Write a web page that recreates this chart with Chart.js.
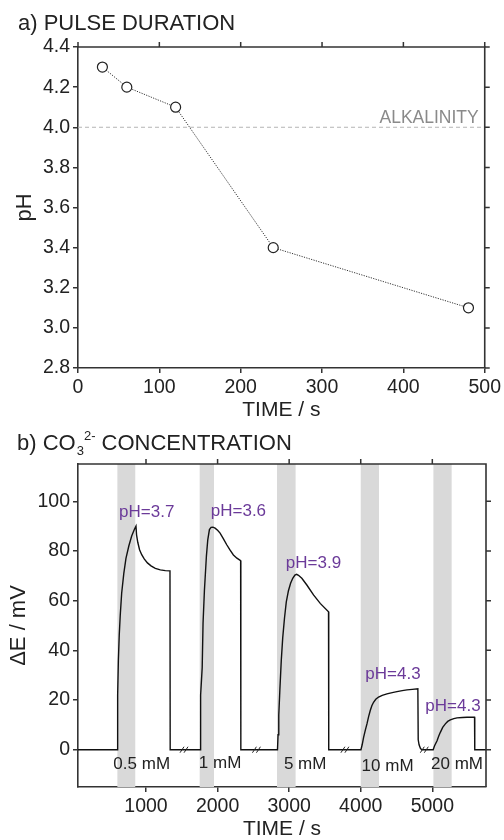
<!DOCTYPE html>
<html><head><meta charset="utf-8">
<script src="https://cdn.jsdelivr.net/npm/chart.js@4"></script>
<style>
html,body{margin:0;padding:0;background:#fff;overflow:hidden;width:504px;height:840px;}
#w1{position:absolute;left:0;top:0;width:504px;height:425px;}
#w2{position:absolute;left:0;top:425px;width:504px;height:415px;}
</style></head><body>
<div id="w1"><canvas id="c1"></canvas></div>
<div id="w2"><canvas id="c2"></canvas></div>
<script>
// ---------- Panel a) data ----------
const pulseDurations = [30, 60, 120, 240, 480];
const pulsePH = [4.3, 4.2, 4.1, 3.4, 3.1];
const alkalinityPH = 4.0;
const alkalinityLabel = 'ALKALINITY';
const pulseXTicks = [0, 100, 200, 300, 400, 500];
const pulseYTicks = [2.8, 3.0, 3.2, 3.4, 3.6, 3.8, 4.0, 4.2, 4.4];

// ---------- Panel b) data ----------
const timeS = [50, 600, 602, 606, 614, 626, 640, 660, 690, 720, 760, 800, 840, 860,
  868, 885, 910, 940, 975, 1020, 1070, 1130, 1200, 1270, 1335, 1338,
  1755, 1760, 1766, 1775, 1785, 1797, 1816, 1844, 1863, 1886, 1909, 1935, 1965, 2000, 2035, 2080, 2128, 2175, 2221, 2270, 2322, 2325,
  2837, 2845, 2855, 2870, 2890, 2910, 2935, 2960, 2990, 3020, 3050, 3080, 3105, 3130, 3177, 3247, 3340, 3434, 3550, 3553,
  4003, 4020, 4040, 4065, 4087, 4110, 4133, 4155, 4179, 4210, 4249, 4300, 4366, 4440, 4506, 4580, 4646, 4720, 4798, 4803, 4815, 4835, 4855,
  5012, 5030, 5066, 5090, 5112, 5145, 5182, 5215, 5252, 5300, 5345, 5420, 5485, 5590, 5593, 5750];
const deltaE = [0, 0, 8, 22, 36, 46, 54, 63, 71, 77, 82, 86, 88.8, 90,
  86.5, 83.5, 80.5, 78.5, 76.8, 75.2, 74, 73, 72.4, 72.1, 72, 0,
  0, 14, 22, 28, 33, 51, 64, 78, 84.5, 88.6, 89.5, 89.6, 89.2, 88.3, 87.2, 85, 82.5, 80.3, 78.4, 77.1, 76.1, 0,
  0, 6, 14, 24, 36, 45, 53, 59.5, 64, 67, 69, 70.3, 70.6, 70.2, 69, 66.3, 62.3, 58.9, 55.5, 0,
  0, 2, 5, 8, 10.4, 13.3, 15.8, 17.7, 19.1, 20.3, 21.2, 21.9, 22.5, 23, 23.4, 23.8, 24.1, 24.3, 24.5, 4, 2, 0.5, 0,
  0, 1.5, 3.6, 5.5, 7, 9, 10.4, 11.4, 12, 12.5, 12.8, 13, 13.1, 13.1, 0, 0];
const pulseBands = [[600, 850], [1750, 1950], [2830, 3090], [4000, 4255], [5015, 5270]];
const concLabels = ['0.5 mM', '1 mM', '5 mM', '10 mM', '20 mM'];
const concLabelTimes = [940, 2035, 3224, 4375, 5345];
const concLabelValues = [-6, -5.5, -6, -6.5, -6];
const phLabels = ['pH=3.7', 'pH=3.6', 'pH=3.9', 'pH=4.3', 'pH=4.3'];
const phLabelTimes = [1010, 2291, 3340, 4450, 5289];
const phLabelValues = [95.6, 96, 75, 30.3, 17.4];
const axisBreakTimes = [1545, 2557, 3793, 4902];
const timeXTicks = [1000, 2000, 3000, 4000, 5000];
const deltaEYTicks = [0, 20, 40, 60, 80, 100];

const FONT = "'Liberation Sans', Arial, Helvetica, sans-serif";
const INK = '#222';
const AXIS = '#333';

Chart.defaults.font.family = FONT;
Chart.defaults.color = INK;

function frameTicks(chart) {
  const {ctx, chartArea: a, scales} = chart;
  const xs = scales.x, ys = scales.y;
  ctx.save();
  ctx.strokeStyle = AXIS;
  ctx.lineWidth = 1.6;
  ctx.beginPath();
  ctx.moveTo(a.left, a.top); ctx.lineTo(a.right, a.top); ctx.lineTo(a.right, a.bottom);
  ctx.stroke();
  ctx.lineWidth = 1.5;
  ctx.beginPath();
  xs.ticks.forEach(t => { const x = xs.getPixelForValue(t.value); ctx.moveTo(x, a.top); ctx.lineTo(x, a.top - 5); });
  ys.ticks.forEach(t => { const y = ys.getPixelForValue(t.value); ctx.moveTo(a.right, y); ctx.lineTo(a.right + 5, y); });
  ctx.stroke();
  ctx.restore();
}

function axisCommon(ticksArr, fmt) {
  return {
    type: 'linear',
    afterBuildTicks: s => { s.ticks = ticksArr.map(v => ({value: v})); },
    grid: {drawOnChartArea: false, drawTicks: true, tickLength: 5, color: AXIS, lineWidth: 1.5},
    border: {display: true, color: AXIS, width: 1.6},
    ticks: {font: {size: 19.5}, color: INK, padding: 3, maxRotation: 0, autoSkip: false, callback: fmt}
  };
}

// ---------- Chart a ----------
const plugA = {
  id: 'plugA',
  beforeDatasetsDraw(chart) {
    const {ctx, chartArea: a, scales: {y}} = chart;
    const py = y.getPixelForValue(alkalinityPH);
    ctx.save();
    ctx.strokeStyle = '#b4b4b4'; ctx.lineWidth = 1; ctx.setLineDash([4, 3]);
    ctx.beginPath(); ctx.moveTo(a.left, py); ctx.lineTo(a.right, py); ctx.stroke();
    ctx.setLineDash([]);
    ctx.fillStyle = '#8a8a8a'; ctx.font = '17.5px ' + FONT;
    ctx.textAlign = 'right'; ctx.textBaseline = 'alphabetic';
    ctx.fillText(alkalinityLabel, a.right - 6, py - 4);
    ctx.restore();
  },
  afterDraw(chart) {
    frameTicks(chart);
    const ctx = chart.ctx;
    ctx.save();
    ctx.fillStyle = INK; ctx.font = '22px ' + FONT; ctx.textAlign = 'left'; ctx.textBaseline = 'alphabetic';
    ctx.fillText('a) PULSE DURATION', 18, 30);
    ctx.restore();
  }
};

const xa = axisCommon(pulseXTicks, v => String(v));
xa.min = 0; xa.max = 500;
xa.afterFit = s => { s.height = 57; };
xa.title = {display: true, text: 'TIME / s', font: {size: 21}, color: INK, padding: {top: 0, bottom: 2}};
const ya = axisCommon(pulseYTicks, v => Number(v).toFixed(1));
ya.min = 2.8; ya.max = 4.4;
ya.afterFit = s => { s.width = 78; };
ya.title = {display: true, text: 'pH', font: {size: 22}, color: INK, padding: {top: 12, bottom: 0}};

new Chart(document.getElementById('c1'), {
  type: 'line',
  data: {datasets: [{
    data: pulseDurations.map((d, i) => ({x: d, y: pulsePH[i]})),
    borderColor: '#333', borderWidth: 1, borderDash: [1.2, 1.3],
    pointRadius: 5, pointBackgroundColor: '#fff', pointBorderColor: '#222', pointBorderWidth: 1.2,
    tension: 0
  }]},
  options: {
    responsive: true, maintainAspectRatio: false, animation: false, devicePixelRatio: 1,
    layout: {padding: {left: 0, right: 18, top: 47, bottom: 0}},
    plugins: {legend: {display: false}, tooltip: {enabled: false}},
    scales: {x: xa, y: ya}
  },
  plugins: [plugA]
});

// ---------- Chart b ----------
const plugB = {
  id: 'plugB',
  beforeDatasetsDraw(chart) {
    const {ctx, chartArea: a, scales: {x}} = chart;
    ctx.save();
    ctx.fillStyle = '#d9d9d9';
    pulseBands.forEach(([s, e]) => {
      const x0 = x.getPixelForValue(s), x1 = x.getPixelForValue(e);
      ctx.fillRect(x0, a.top, x1 - x0, a.bottom - a.top);
    });
    ctx.restore();
  },
  afterDatasetsDraw(chart) {
    const {ctx, scales: {x, y}} = chart;
    ctx.save();
    ctx.strokeStyle = INK; ctx.lineWidth = 1;
    const y0 = y.getPixelForValue(0);
    axisBreakTimes.forEach(t => {
      const px = x.getPixelForValue(t);
      ctx.beginPath();
      ctx.moveTo(px - 5, y0 + 3); ctx.lineTo(px - 1, y0 - 3);
      ctx.moveTo(px - 1, y0 + 3); ctx.lineTo(px + 3, y0 - 3);
      ctx.stroke();
    });
    ctx.textAlign = 'center'; ctx.textBaseline = 'middle';
    ctx.font = '17px ' + FONT;
    ctx.fillStyle = INK;
    concLabels.forEach((s, i) => ctx.fillText(s, x.getPixelForValue(concLabelTimes[i]), y.getPixelForValue(concLabelValues[i])));
    ctx.fillStyle = '#6b3a99';
    phLabels.forEach((s, i) => ctx.fillText(s, x.getPixelForValue(phLabelTimes[i]), y.getPixelForValue(phLabelValues[i])));
    ctx.restore();
  },
  afterDraw(chart) {
    frameTicks(chart);
    const ctx = chart.ctx;
    ctx.save();
    ctx.fillStyle = INK; ctx.textAlign = 'left'; ctx.textBaseline = 'alphabetic';
    const base = 25;
    let cx = 17;
    ctx.font = '22px ' + FONT;
    ctx.fillText('b) CO', cx, base); cx += ctx.measureText('b) CO').width;
    ctx.font = '13px ' + FONT;
    ctx.fillText('3', cx + 1, base + 5);
    const w3 = ctx.measureText('3').width;
    ctx.fillText('2-', cx + w3 + 1, base - 10);
    cx += w3 + 1 + ctx.measureText('2-').width;
    ctx.font = '22px ' + FONT;
    ctx.fillText(' CONCENTRATION', cx, base);
    ctx.restore();
  }
};

const xb = axisCommon(timeXTicks, v => String(v));
xb.min = 50; xb.max = 5750;
xb.afterFit = s => { s.height = 53; };
xb.title = {display: true, text: 'TIME / s', font: {size: 21, lineHeight: 1}, color: INK, padding: {top: 0, bottom: 0}};
const yb = axisCommon(deltaEYTicks, v => String(v));
yb.min = -15; yb.max = 115;
yb.afterFit = s => { s.width = 78; };
yb.title = {display: true, text: 'ΔE / mV', font: {size: 22}, color: INK, padding: {top: 6, bottom: 0}};

new Chart(document.getElementById('c2'), {
  type: 'line',
  data: {datasets: [{
    data: timeS.map((t, i) => ({x: t, y: deltaE[i]})),
    borderColor: '#111', borderWidth: 1.4, pointRadius: 0, tension: 0, fill: false
  }]},
  options: {
    responsive: true, maintainAspectRatio: false, animation: false, devicePixelRatio: 1,
    layout: {padding: {left: 0, right: 18, top: 39, bottom: 0}},
    plugins: {legend: {display: false}, tooltip: {enabled: false}},
    scales: {x: xb, y: yb}
  },
  plugins: [plugB]
});
</script>
</body></html>
